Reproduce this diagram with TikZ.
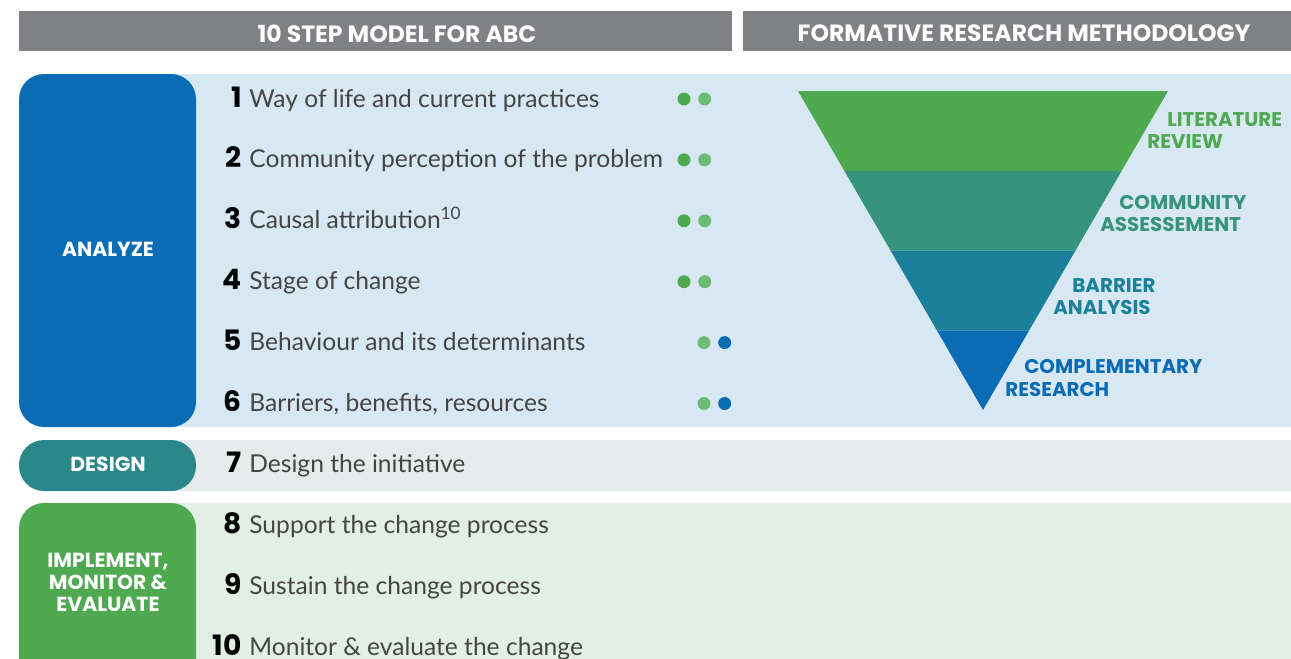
\documentclass[tikz,border=0pt]{standalone}
\usepackage{fontspec}
\setmainfont{Lato}
\newfontfamily\headfont{Poppins}
\usetikzlibrary{positioning, calc}
% palette
\definecolor{barGray}{HTML}{808184}
\definecolor{abcBlue}{HTML}{0A6CB5}
\definecolor{abcTeal}{HTML}{2A878A}
\definecolor{abcGreen}{HTML}{4EA951}
\definecolor{abcLightGreen}{HTML}{6DBB74}
\definecolor{abcSea}{HTML}{36937C}
\definecolor{abcPetrol}{HTML}{1B819B}
\definecolor{bgBlue}{HTML}{D8E8F3}
\definecolor{bgGray}{HTML}{E5EBEA}
\definecolor{bgGreen}{HTML}{E2F0E3}
\definecolor{txtGray}{HTML}{444444}

\tikzset{
  headbar/.style={fill=barGray, draw=none},
  headtext/.style={text=white, font=\headfont\bfseries\fontsize{13.4}{15}\selectfont},
  phasebox/.style={draw=none, rounded corners=0.5cm},
  phasetext/.style={text=white, align=center, font=\headfont\bfseries\fontsize{11.6}{12.5}\selectfont},
  stepnum/.style={anchor=base east, inner sep=0pt, text=black, font=\headfont\bfseries\fontsize{16}{18}\selectfont},
  steptext/.style={anchor=base west, inner sep=0pt, text=txtGray, font=\fontsize{14}{16}\selectfont},
  dotmark/.style={circle, inner sep=0pt, minimum size=13*0.02cm},
  funneltext/.style={anchor=base west, inner sep=0pt, font=\headfont\bfseries\fontsize{11.3}{13}\selectfont}
}

\begin{document}
\begin{tikzpicture}[x=0.02cm, y=-0.02cm, line cap=round]
	\useasboundingbox (0,0) rectangle (1291,659);
	\clip (0,0) rectangle (1291,659);

	% column headers
	\fill[headbar] (19,11) rectangle (732,51);
	\fill[headbar] (743,11) rectangle (1291,51);
	\node[headtext] (hleft) at (397,33.5) {10 STEP MODEL FOR ABC};
	\node[headtext] (hright) at (1024,33.5) {FORMATIVE RESEARCH METHODOLOGY};

	% phase bands
	\fill[bgBlue] (150,74) rectangle (1291,427);
	\fill[bgGray] (150,440) rectangle (1291,491);
	\fill[bgGreen] (150,503) rectangle (1291,680);
	\fill[phasebox, fill=abcBlue] (19,74) rectangle (196,427);
	\fill[phasebox, fill=abcTeal] (19,440) rectangle (196,491);
	\fill[phasebox, fill=abcGreen] (19,503) rectangle (196,690);
	\node[phasetext] (analyze) at (108,249) {ANALYZE};
	\node[phasetext] (design) at (108,464) {DESIGN};
	\node[phasetext] (implement) at (108,582) {IMPLEMENT,\\MONITOR \&\\EVALUATE};

	% the ten steps
	\foreach \i/\txt in {1/Way of life and current practices,
	                    2/Community perception of the problem,
	                    3/Causal attribution\textsuperscript{10},
	                    4/Stage of change,
	                    5/Behaviour and its determinants,
	                    6/{Barriers, benefits, resources},
	                    7/Design the initiative,
	                    8/Support the change process,
	                    9/Sustain the change process,
	                    10/Monitor \& evaluate the change} {
		\node[stepnum] (n\i) at (242,{98+(\i-1)*60.9+9}) {\i};
		\node[steptext, right=7*0.02cm of n\i.base east, anchor=base west] (s\i) {\txt};
	}

	% research markers
	\foreach \r in {1,...,4} {
		\node[dotmark, fill=abcGreen] (da\r) at (684,{99+(\r-1)*60.9}) {};
		\node[dotmark, fill=abcLightGreen, right=7*0.02cm of da\r] (db\r) {};
	}
	\foreach \r in {5,6} {
		\node[dotmark, fill=abcLightGreen] (da\r) at (704,{99+(\r-1)*60.9}) {};
		\node[dotmark, fill=abcBlue, right=7*0.02cm of da\r] (db\r) {};
	}

	% funnel
	\coordinate (ftl) at (798,91);
	\coordinate (ftr) at (1168,91);
	\coordinate (fap) at (983,410);
	\foreach \a/\b/\c in {0/0.25/abcGreen, 0.25/0.5/abcSea, 0.5/0.75/abcPetrol} {
		\fill[\c] ($(ftl)!\a!(fap)$) -- ($(ftr)!\a!(fap)$) -- ($(ftr)!\b!(fap)$) -- ($(ftl)!\b!(fap)$) -- cycle;
	}
	\fill[abcBlue] ($(ftl)!0.75!(fap)$) -- ($(ftr)!0.75!(fap)$) -- (fap) -- cycle;

	\node[funneltext, text=abcGreen] (lit1) at (1167,126) {LITERATURE};
	\node[funneltext, text=abcGreen] (lit2) at (1147,148) {REVIEW};
	\node[funneltext, text=abcSea] (com1) at (1119,209) {COMMUNITY};
	\node[funneltext, text=abcSea] (com2) at (1100,231) {ASSESSEMENT};
	\node[funneltext, text=abcPetrol] (bar1) at (1072,292) {BARRIER};
	\node[funneltext, text=abcPetrol] (bar2) at (1053,314) {ANALYSIS};
	\node[funneltext, text=abcBlue] (cpl1) at (1024,373) {COMPLEMENTARY};
	\node[funneltext, text=abcBlue] (cpl2) at (1005,396) {RESEARCH};
\end{tikzpicture}
\end{document}
